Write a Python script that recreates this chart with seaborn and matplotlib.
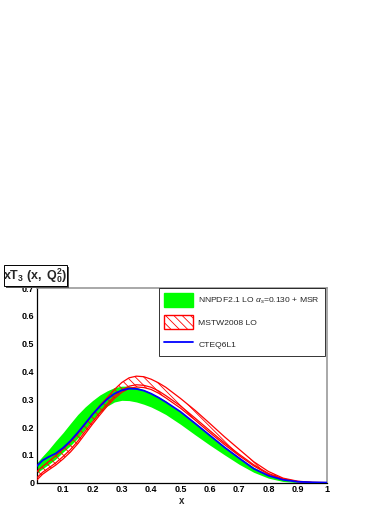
import numpy as np
import pandas as pd
import seaborn as sns
import matplotlib.pyplot as plt
from matplotlib.patches import Patch, Rectangle
from matplotlib.lines import Line2D
from matplotlib.ticker import MultipleLocator

# values
x = [0.011, 0.03, 0.05, 0.075, 0.1, 0.125, 0.15, 0.175, 0.2, 0.225, 0.25, 0.275,
     0.3, 0.325, 0.35, 0.375, 0.4, 0.425, 0.45, 0.5,
     0.55, 0.6, 0.65, 0.7, 0.75, 0.8, 0.85, 0.9, 0.95, 1.0]

nnpdf_lo = [0.035, 0.050, 0.065, 0.085, 0.110, 0.133, 0.160, 0.192, 0.225, 0.252, 0.275, 0.290,
            0.296, 0.295, 0.290, 0.282, 0.272, 0.259, 0.245, 0.210,
            0.172, 0.135, 0.100, 0.066, 0.037, 0.016, 0.004, 0.000, 0.000, 0.000]
nnpdf_hi = [0.072, 0.095, 0.118, 0.150, 0.180, 0.213, 0.245, 0.272, 0.295, 0.315, 0.330, 0.342,
            0.347, 0.347, 0.343, 0.334, 0.322, 0.309, 0.293, 0.255,
            0.215, 0.172, 0.130, 0.090, 0.055, 0.028, 0.010, 0.002, 0.000, 0.000]

mstw_lo = [0.010, 0.030, 0.045, 0.063, 0.085, 0.110, 0.140, 0.175, 0.210, 0.243, 0.275, 0.303,
           0.325, 0.339, 0.344, 0.342, 0.335, 0.322, 0.305, 0.268,
           0.225, 0.180, 0.137, 0.097, 0.060, 0.030, 0.012, 0.003, 0.000, 0.000]
mstw_hi = [0.040, 0.058, 0.075, 0.097, 0.120, 0.146, 0.175, 0.210, 0.245, 0.277, 0.305, 0.335,
           0.360, 0.377, 0.383, 0.381, 0.372, 0.359, 0.343, 0.303,
           0.260, 0.213, 0.165, 0.120, 0.075, 0.040, 0.016, 0.005, 0.001, 0.000]
mstw_c = [0.018, 0.037, 0.052, 0.071, 0.094, 0.119, 0.149, 0.184, 0.218, 0.251, 0.283, 0.311,
          0.333, 0.347, 0.352, 0.350, 0.343, 0.330, 0.313, 0.276,
          0.232, 0.187, 0.143, 0.102, 0.064, 0.033, 0.013, 0.004, 0.000, 0.000]

cteq = [0.060, 0.080, 0.092, 0.105, 0.125, 0.150, 0.180, 0.212, 0.245, 0.274, 0.300, 0.320,
        0.332, 0.338, 0.337, 0.331, 0.320, 0.306, 0.290, 0.255,
        0.213, 0.170, 0.127, 0.088, 0.050, 0.025, 0.010, 0.003, 0.001, 0.000]

labels = ["NNPDF2.1 LO $\\alpha_{s}$=0.130 + MSR", "MSTW2008 LO", "CTEQ6L1"]

sns.set_style("white")
plt.rcParams['font.family'] = ['Liberation Sans', 'DejaVu Sans']
plt.rcParams['mathtext.fontset'] = 'custom'
plt.rcParams['mathtext.rm'] = 'Liberation Sans'
plt.rcParams['mathtext.it'] = 'Liberation Sans:italic'
plt.rcParams['mathtext.bf'] = 'Liberation Sans:bold'
plt.rcParams['hatch.linewidth'] = 0.6

df = pd.DataFrame({'x': x, 'cteq': cteq, 'mstw_lo': mstw_lo,
                   'mstw_hi': mstw_hi, 'mstw_c': mstw_c})

fig = plt.figure(figsize=(3.92, 5.08), dpi=100)
ax = fig.add_axes([0.0944, 0.0500, 0.740, 0.383])

# bands
ax.fill_between(x, nnpdf_lo, nnpdf_hi, color='#00ff00', lw=0, zorder=1)
ax.fill_between(x, mstw_lo, mstw_hi, facecolor='none', edgecolor='red',
                hatch='\\\\\\\\', lw=0, zorder=2)
for col in ['mstw_lo', 'mstw_hi', 'mstw_c']:
    sns.lineplot(data=df, x='x', y=col, color='red', lw=0.9, ax=ax, zorder=3)
sns.lineplot(data=df, x='x', y='cteq', color='blue', lw=1.3, ax=ax, zorder=4)

ax.set_xlim(0.011, 1.0)
ax.set_ylim(0, 0.7)
ax.xaxis.set_minor_locator(MultipleLocator(0.02))
ax.yaxis.set_minor_locator(MultipleLocator(0.02))
ax.set_xticks([0.1, 0.2, 0.3, 0.4, 0.5, 0.6, 0.7, 0.8, 0.9, 1.0])
ax.set_xticklabels(['0.1', '0.2', '0.3', '0.4', '0.5', '0.6', '0.7', '0.8', '0.9', '1'])
ax.set_yticks([0, 0.1, 0.2, 0.3, 0.4, 0.5, 0.6, 0.7])
ax.set_yticklabels(['0', '0.1', '0.2', '0.3', '0.4', '0.5', '0.6', '0.7'])
ax.tick_params(axis='both', which='both', direction='in', colors='black',
               labelsize=6.5, width=0.6)
ax.tick_params(axis='y', which='major', length=6.3, pad=2)
ax.tick_params(axis='y', which='minor', length=3.1)
ax.tick_params(axis='x', which='major', length=4.2, pad=2)
ax.tick_params(axis='x', which='minor', length=2.1)
for lab in ax.get_xticklabels() + ax.get_yticklabels():
    lab.set_fontweight('bold')

ax.set_xlabel('x', fontsize=7, fontweight='bold', labelpad=1)
ax.set_ylabel('')
for s in ['left', 'bottom']:
    ax.spines[s].set_color('black')
    ax.spines[s].set_linewidth(0.9)
for s in ['top', 'right']:
    ax.spines[s].set_color('#999999')
    ax.spines[s].set_linewidth(1.2)

handles = [Patch(facecolor='#00ff00', edgecolor='#00ff00'),
           Patch(facecolor='white', edgecolor='red', hatch='\\\\\\\\', lw=1),
           Line2D([], [], color='blue', lw=1.3)]
leg = ax.legend(handles, labels, loc='upper right', bbox_to_anchor=(0.992, 1.0),
                frameon=True, fancybox=False, shadow=False, fontsize=6.1,
                handlelength=3.5, handleheight=2.2, labelspacing=0.95,
                borderpad=0.55, handletextpad=0.6, borderaxespad=0)
leg.get_frame().set_edgecolor('black')
leg.get_frame().set_linewidth(0.7)
leg.set_zorder(10)

# title box with shadow (ROOT style)
fig.patches.append(Rectangle((6 / 392, 1 - 288 / 508), 63 / 392, 21 / 508,
                             transform=fig.transFigure, facecolor='#555555',
                             edgecolor='none', zorder=1))
fig.patches.append(Rectangle((4 / 392, 1 - 286 / 508), 63 / 392, 21 / 508,
                             transform=fig.transFigure, facecolor='white',
                             edgecolor='black', lw=0.7, zorder=2))
fig.text(35.5 / 392, 1 - 276 / 508, r'$\mathbf{xT_{3}\ (x,\ Q^{2}_{0})}$',
         ha='center', va='center', fontsize=9, zorder=3)

plt.savefig('out.png', dpi=100)
